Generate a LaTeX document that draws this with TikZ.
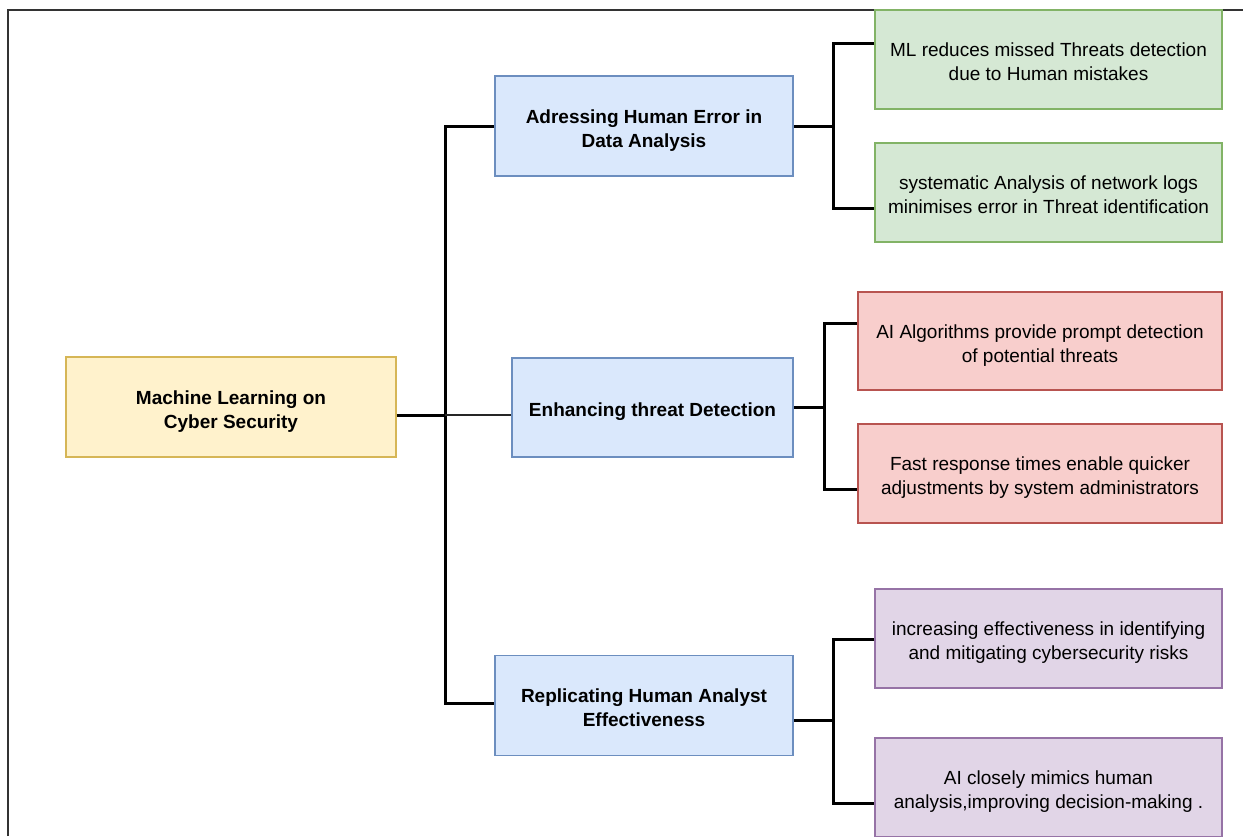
\documentclass[tikz,border=0pt]{standalone}
\usepackage{fontspec}
\usepackage{calc}
\setmainfont{Liberation Sans}
\definecolor{yfill}{HTML}{FFF2CC}\definecolor{ydraw}{HTML}{D6B656}
\definecolor{bfill}{HTML}{DAE8FC}\definecolor{bdraw}{HTML}{6C8EBF}
\definecolor{gfill}{HTML}{D5E8D4}\definecolor{gdraw}{HTML}{82B366}
\definecolor{rfill}{HTML}{F8CECC}\definecolor{rdraw}{HTML}{B85450}
\definecolor{pfill}{HTML}{E1D5E7}\definecolor{pdraw}{HTML}{9673A6}
\definecolor{framecol}{HTML}{333333}
\newcommand{\lowtext}[1]{\raisebox{0pt}[\height+9pt][\depth]{\begin{tabular}{@{}c@{}}#1\end{tabular}}}
\tikzset{
  box/.style={rectangle, inner sep=0pt, line width=1.5pt,
    font=\fontsize{19}{24}\selectfont, text=black},
  rootbox/.style={box, fill=yfill, draw=ydraw, font=\fontsize{19}{24}\selectfont\bfseries},
  midbox/.style={box, fill=bfill, draw=bdraw, font=\fontsize{19}{24}\selectfont\bfseries},
  greenbox/.style={box, fill=gfill, draw=gdraw},
  redbox/.style={box, fill=rfill, draw=rdraw},
  purplebox/.style={box, fill=pfill, draw=pdraw},
  conn/.style={line width=3pt, draw=black},
  thinconn/.style={line width=1.5pt, draw=black!85},
}
\renewcommand{\arraystretch}{1}
\setlength{\tabcolsep}{0pt}
\begin{document}
\begin{tikzpicture}[x=1pt,y=-1pt]
\useasboundingbox (0,0) rectangle (1243,836);
\draw[framecol, line width=2pt] (7.5,836) -- (7.5,9.5) -- (1243,9.5);

% root
\node[rootbox, minimum width=330pt, minimum height=100pt] (root) at (231,407) {\lowtext{Machine Learning on\\Cyber Security}};
% middle
\node[midbox, minimum width=298pt, minimum height=100pt] (m1) at (644,126) {\lowtext{Adressing Human Error in\\Data Analysis}};
\node[midbox, minimum width=281pt, minimum height=99pt] (m2) at (652.5,407.5) {\lowtext{Enhancing threat Detection}};
\node[midbox, minimum width=298pt, minimum height=100pt] (m3) at (644,705.5) {\lowtext{Replicating Human Analyst\\Effectiveness}};
% leaves
\node[greenbox, minimum width=347pt, minimum height=99pt] (g1) at (1048.5,59.5) {\lowtext{ML reduces missed Threats detection\\due to Human mistakes}};
\node[greenbox, minimum width=347pt, minimum height=99pt] (g2) at (1048.5,192.5) {\lowtext{systematic Analysis of network logs\\minimises error in Threat identification}};
\node[redbox, minimum width=364pt, minimum height=98pt] (r1) at (1040,341) {\lowtext{AI Algorithms provide prompt detection\\of potential threats}};
\node[redbox, minimum width=364pt, minimum height=99pt] (r2) at (1040,473.5) {\lowtext{Fast response times enable quicker\\adjustments by system administrators}};
\node[purplebox, minimum width=347pt, minimum height=99pt] (p1) at (1048.5,638.5) {\lowtext{increasing effectiveness in identifying\\and mitigating cybersecurity risks}};
\node[purplebox, minimum width=347pt, minimum height=99pt] (p2) at (1048.5,787.5) {\lowtext{AI closely mimics human\\analysis,improving decision-making .}};

% junction coordinates
\coordinate (j0) at (445,415);
\coordinate (t1) at (445,126);
\coordinate (t3) at (445,703);
\coordinate (a1) at (833,126);
\coordinate (a1t) at (833,43);
\coordinate (a1b) at (833,208);
\coordinate (a2) at (824,407);
\coordinate (a2t) at (824,323);
\coordinate (a2b) at (824,489);
\coordinate (a3) at (833,720);
\coordinate (a3t) at (833,639);
\coordinate (a3b) at (833,803);

% root to trunk
\draw[conn] (root.east |- j0) -- (j0);
\draw[conn] (m1.west |- t1) -- (t1) -- (t3) -- (m3.west |- t3);
\draw[thinconn] (j0) -- (m2.west |- j0);

% branch 1
\draw[conn] (m1.east |- a1) -- (a1);
\draw[conn] (g1.west |- a1t) -- (a1t) -- (a1b) -- (g2.west |- a1b);
% branch 2
\draw[conn] (m2.east |- a2) -- (a2);
\draw[conn] (r1.west |- a2t) -- (a2t) -- (a2b) -- (r2.west |- a2b);
% branch 3
\draw[conn] (m3.east |- a3) -- (a3);
\draw[conn] (p1.west |- a3t) -- (a3t) -- (a3b) -- (p2.west |- a3b);
\end{tikzpicture}
\end{document}
